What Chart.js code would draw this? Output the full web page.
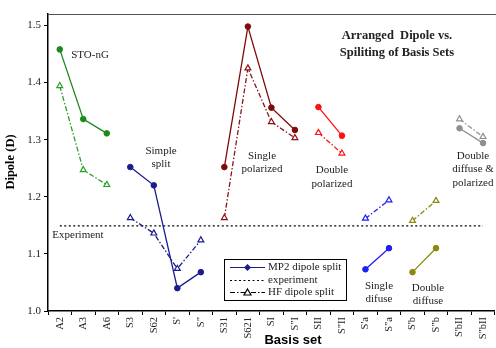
<!DOCTYPE html>
<html>
<head>
<meta charset="utf-8">
<script src="https://cdn.jsdelivr.net/npm/chart.js@4"></script>
<style>
  html, body { margin: 0; padding: 0; overflow: hidden; background: #fff; }
  canvas { display: block; }
</style>
</head>
<body>
<canvas id="dipoleChart" width="500" height="348"></canvas>
<script>
// basis sets along the x axis
const basisSets = ['A2', 'A3', 'A6', 'S3', 'S62', "S'", 'S"', 'S31', 'S621', 'SI', 'S"I',
  'SII', 'S"II', "S'a", 'S"a', "S'b", 'S"b', "S'bII", 'S"bII'];

const yTicks = [1.0, 1.1, 1.2, 1.3, 1.4, 1.5];

// dipole values (D) per family of basis sets
const stoSets = ['A2', 'A3', 'A6'];
const stoMp2 = [1.458, 1.336, 1.311];
const stoHf = [1.394, 1.247, 1.221];

const simpleSets = ['S3', 'S62', "S'", 'S"'];
const simpleMp2 = [1.252, 1.220, 1.040, 1.068];
const simpleHf = [1.163, 1.136, 1.074, 1.124];

const singlePolSets = ['S31', 'S621', 'SI', 'S"I'];
const singlePolMp2 = [1.252, 1.498, 1.356, 1.317];
const singlePolHf = [1.163, 1.425, 1.331, 1.303];

const doublePolSets = ['SII', 'S"II'];
const doublePolMp2 = [1.357, 1.307];
const doublePolHf = [1.312, 1.276];

const singleDifSets = ["S'a", 'S"a'];
const singleDifMp2 = [1.073, 1.110];
const singleDifHf = [1.162, 1.194];

const doubleDifSets = ["S'b", 'S"b'];
const doubleDifMp2 = [1.068, 1.110];
const doubleDifHf = [1.158, 1.193];

const difPolSets = ["S'bII", 'S"bII'];
const difPolMp2 = [1.320, 1.294];
const difPolHf = [1.336, 1.305];

const experimentValue = 1.149;

const serif = '"Liberation Serif", "Times New Roman", serif';

function pairs(sets, vals) {
  return sets.map((s, i) => ({ x: s, y: vals[i] }));
}

function mp2Set(sets, vals, color) {
  return {
    label: 'MP2 dipole split',
    data: pairs(sets, vals),
    borderColor: color,
    backgroundColor: color,
    borderWidth: 1.3,
    pointStyle: 'circle',
    pointRadius: 2.8,
    pointBorderWidth: 1,
    tension: 0
  };
}

function hfSet(sets, vals, color) {
  return {
    label: 'HF dipole split',
    data: pairs(sets, vals),
    borderColor: color,
    backgroundColor: '#ffffff',
    borderWidth: 1.3,
    borderDash: [5, 2, 1.5, 2],
    pointStyle: 'triangle',
    pointRadius: 3.4,
    pointBorderWidth: 1.2,
    tension: 0
  };
}

const groups = [
  [stoSets, stoMp2, stoHf, '#1b8a1b', '#2aa02a'],
  [simpleSets, simpleMp2, simpleHf, '#1c1c8c', '#1c1c8c'],
  [singlePolSets, singlePolMp2, singlePolHf, '#7f0a0a', '#8a1515'],
  [doublePolSets, doublePolMp2, doublePolHf, '#ff1010', '#ff1010'],
  [singleDifSets, singleDifMp2, singleDifHf, '#2020f0', '#2020f0'],
  [doubleDifSets, doubleDifMp2, doubleDifHf, '#8a8a10', '#8a8a10'],
  [difPolSets, difPolMp2, difPolHf, '#8f8f8f', '#8f8f8f']
];

const datasets = [];
groups.forEach(g => {
  datasets.push(hfSet(g[0], g[2], g[4]));
  datasets.push(mp2Set(g[0], g[1], g[3]));
});
datasets.push({
  label: 'experiment',
  data: basisSets.map(s => ({ x: s, y: experimentValue })),
  borderColor: '#000',
  borderWidth: 1.2,
  borderDash: [2, 2.5],
  pointRadius: 0,
  order: 10
});

// text labels, frame and legend box
const decorations = {
  id: 'decorations',
  afterDraw(chart) {
    const ctx = chart.ctx;
    const a = chart.chartArea;
    ctx.save();

    // top frame line
    ctx.strokeStyle = '#555';
    ctx.lineWidth = 1;
    ctx.beginPath();
    ctx.moveTo(a.left, a.top + 0.5);
    ctx.lineTo(chart.width, a.top + 0.5);
    ctx.stroke();

    ctx.fillStyle = '#222';
    ctx.textAlign = 'center';
    ctx.textBaseline = 'middle';

    ctx.font = 'bold 12.5px ' + serif;
    ctx.fillText('Arranged  Dipole vs.', 397, 36);
    ctx.fillText('Spiliting of Basis Sets', 397, 53);

    ctx.font = '11px ' + serif;
    const notes = [
      ['STO-nG', 90, 55],
      ['Simple', 161, 151], ['split', 161, 164],
      ['Single', 262, 156], ['polarized', 262, 169],
      ['Double', 332, 170], ['polarized', 332, 184],
      ['Double', 473, 156], ['diffuse &', 473, 169], ['polarized', 473, 183],
      ['Single', 379, 286], ['difuse', 379, 299],
      ['Double', 428, 288], ['diffuse', 428, 301],
      ['Experiment', 78, 235]
    ];
    notes.forEach(n => ctx.fillText(n[0], n[1], n[2]));

    // axis titles
    ctx.fillStyle = '#000';
    ctx.font = 'bold 13px "Liberation Sans", Arial, sans-serif';
    ctx.fillText('Basis set', 293, 340);
    ctx.save();
    ctx.translate(11, 162);
    ctx.rotate(-Math.PI / 2);
    ctx.font = 'bold 12.5px ' + serif;
    ctx.fillText('Dipole (D)', 0, 0);
    ctx.restore();

    // legend
    const lx = 224, ly = 259, lw = 122, lh = 41;
    ctx.fillStyle = '#fff';
    ctx.fillRect(lx, ly, lw, lh);
    ctx.strokeStyle = '#000';
    ctx.lineWidth = 1;
    ctx.strokeRect(lx + 0.5, ly + 0.5, lw, lh);

    const rows = [267.5, 280.5, 292.5];
    ctx.lineWidth = 1.2;
    ctx.strokeStyle = '#1c1c8c';
    ctx.beginPath();
    ctx.moveTo(230, rows[0]);
    ctx.lineTo(265, rows[0]);
    ctx.stroke();
    ctx.fillStyle = '#1c1c8c';
    ctx.beginPath();
    ctx.moveTo(247.5, rows[0] - 3.5);
    ctx.lineTo(251, rows[0]);
    ctx.lineTo(247.5, rows[0] + 3.5);
    ctx.lineTo(244, rows[0]);
    ctx.closePath();
    ctx.fill();

    ctx.strokeStyle = '#000';
    ctx.setLineDash([2, 2.5]);
    ctx.beginPath();
    ctx.moveTo(230, rows[1]);
    ctx.lineTo(265, rows[1]);
    ctx.stroke();

    ctx.setLineDash([5, 2, 1.5, 2]);
    ctx.beginPath();
    ctx.moveTo(230, rows[2]);
    ctx.lineTo(265, rows[2]);
    ctx.stroke();
    ctx.setLineDash([]);
    ctx.fillStyle = '#fff';
    ctx.beginPath();
    ctx.moveTo(247.5, rows[2] - 3.5);
    ctx.lineTo(251, rows[2] + 2.5);
    ctx.lineTo(244, rows[2] + 2.5);
    ctx.closePath();
    ctx.fill();
    ctx.stroke();

    ctx.fillStyle = '#222';
    ctx.textAlign = 'left';
    ctx.font = '11px ' + serif;
    ctx.fillText('MP2 dipole split', 268, rows[0]);
    ctx.fillText('experiment', 268, rows[1]);
    ctx.fillText('HF dipole split', 268, rows[2]);

    ctx.restore();
  }
};

new Chart(document.getElementById('dipoleChart'), {
  type: 'line',
  data: { labels: basisSets, datasets: datasets },
  options: {
    responsive: false,
    animation: false,
    spanGaps: false,
    layout: { padding: { top: 14, right: 1, left: 0, bottom: 0 } },
    plugins: {
      legend: { display: false },
      tooltip: { enabled: false }
    },
    scales: {
      x: {
        type: 'category',
        offset: true,
        afterFit: s => { s.height = 37; },
        grid: {
          offset: true,
          drawOnChartArea: false,
          drawTicks: true,
          tickLength: 4,
          color: '#000'
        },
        border: { color: '#000', width: 1.5 },
        ticks: {
          minRotation: 90,
          maxRotation: 90,
          autoSkip: false,
          padding: 2,
          color: '#222',
          font: { family: serif, size: 10.5 }
        }
      },
      y: {
        min: 1.0,
        max: 1.52,
        afterFit: s => { s.width = 48; },
        afterBuildTicks: s => {
          s.ticks = yTicks.map(v => ({ value: v }));
        },
        grid: {
          drawOnChartArea: false,
          drawTicks: true,
          tickLength: 4,
          color: '#000'
        },
        border: { color: '#000', width: 1.5 },
        ticks: {
          padding: 3,
          color: '#222',
          font: { family: serif, size: 11 },
          callback: v => Number(v).toFixed(1)
        }
      }
    }
  },
  plugins: [decorations]
});
</script>
</body>
</html>
